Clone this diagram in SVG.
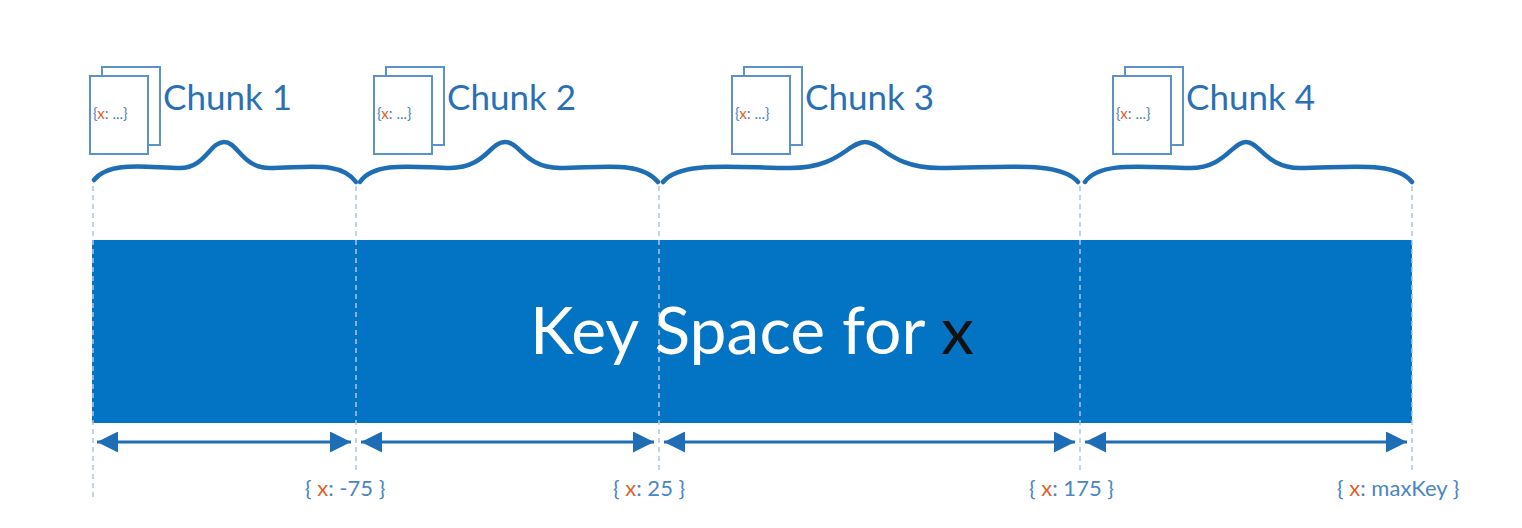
<svg xmlns="http://www.w3.org/2000/svg" width="1522" height="528" viewBox="0 0 1522 528">
<style>
.dash{stroke:#a9c8e6;stroke-width:1.5;stroke-dasharray:5 4}
.brace{fill:none;stroke:#1f6db5;stroke-width:4.5;stroke-linecap:round}
.doc{fill:#fff;stroke:#5b93c9;stroke-width:2}
.lbl{font-family:"Lato","Liberation Sans",sans-serif;font-size:35px;fill:#2a70b5}
.ix{font-family:"Lato","Liberation Sans",sans-serif;font-size:15px;fill:#4a86c2}
.kx{font-family:"Lato","Liberation Sans",sans-serif;font-size:22px;fill:#4a86c2}
.x{fill:#e2612a}
.arr{stroke:#1f6db5;stroke-width:3;marker-start:url(#ah);marker-end:url(#ah)}
</style>
<defs>
<marker id="ah" viewBox="0 0 10 10" refX="10" refY="5" markerWidth="8" markerHeight="7" orient="auto-start-reverse" markerUnits="strokeWidth"><path d="M0,0L10,5L0,10z" fill="#1f6db5"/></marker>
<g id="docicon"><rect class="doc" x="12" y="0" width="58" height="78"/><rect class="doc" x="0" y="9" width="58" height="78"/><text class="ix" x="3" y="52">{<tspan class="x">x</tspan>: ...}</text></g>
</defs>
<rect width="1522" height="528" fill="#fff"/>
<rect id="keyspace" x="92" y="240" width="1320" height="183" fill="#0274c3"/>
<g id="dashes">
<line class="dash" x1="93" y1="186" x2="93" y2="500"/>
<line class="dash" x1="356" y1="186" x2="356" y2="470"/>
<line class="dash" x1="659" y1="186" x2="659" y2="470"/>
<line class="dash" x1="1080" y1="186" x2="1080" y2="470"/>
<line class="dash" x1="1412" y1="186" x2="1412" y2="470"/>
</g>
<text x="752" y="354" text-anchor="middle" font-family="Lato,'Liberation Sans',sans-serif" font-size="66" fill="#fff">Key Space for <tspan fill="#111">x</tspan></text>
<g id="chunk1"><use href="#docicon" x="90" y="67"/><text class="lbl" x="163" y="110">Chunk 1</text>
<path class="brace" d="M94,180 C110,160 150,168 180,168 C205,168 210,142 224,142 C238,142 242,168 270,168 C305,168 340,160 356,182"/></g>
<g id="chunk2"><use href="#docicon" x="374" y="67"/><text class="lbl" x="447" y="110">Chunk 2</text>
<path class="brace" d="M360,182 C375,160 420,168 450,168 C485,168 490,142 505,142 C520,142 525,168 560,168 C600,168 640,160 658,182"/></g>
<g id="chunk3"><use href="#docicon" x="732" y="67"/><text class="lbl" x="805" y="110">Chunk 3</text>
<path class="brace" d="M663,182 C680,160 740,168 790,168 C840,168 848,142 865,142 C882,142 890,168 940,168 C1000,168 1060,160 1078,182"/></g>
<g id="chunk4"><use href="#docicon" x="1113" y="67"/><text class="lbl" x="1186" y="110">Chunk 4</text>
<path class="brace" d="M1085,182 C1100,160 1150,168 1190,168 C1225,168 1232,142 1246,142 C1260,142 1266,168 1300,168 C1345,168 1395,160 1412,182"/></g>
<g id="connectors">
<line class="arr" x1="97" y1="442" x2="351" y2="442"/>
<line class="arr" x1="361" y1="442" x2="654" y2="442"/>
<line class="arr" x1="664" y1="442" x2="1075" y2="442"/>
<line class="arr" x1="1085" y1="442" x2="1407" y2="442"/>
</g>
<g id="keys">
<text class="kx" x="305" y="496">{ <tspan class="x">x</tspan>: -75 }</text>
<text class="kx" x="613" y="496">{ <tspan class="x">x</tspan>: 25 }</text>
<text class="kx" x="1029" y="496">{ <tspan class="x">x</tspan>: 175 }</text>
<text class="kx" x="1337" y="496">{ <tspan class="x">x</tspan>: maxKey }</text>
</g>
</svg>
